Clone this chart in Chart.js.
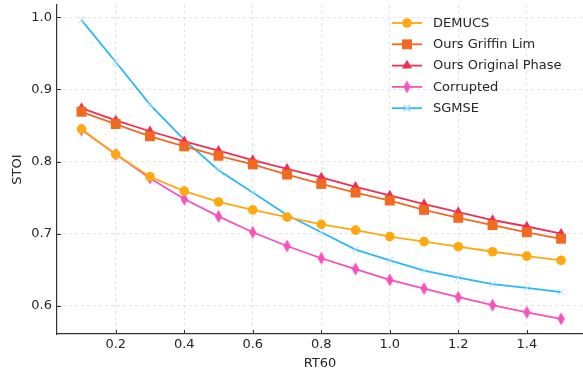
<!DOCTYPE html>
<html>
<head>
<meta charset="utf-8">
<script src="https://cdn.jsdelivr.net/npm/chart.js@4.4.1/dist/chart.umd.min.js"></script>
<style>
  html, body { margin: 0; padding: 0; background: #fff; overflow: hidden; }
  canvas { display: block; }
</style>
</head>
<body>
<canvas id="chart" width="583" height="373"></canvas>
<script>
const rt60 = [0.1, 0.2, 0.3, 0.4, 0.5, 0.6, 0.7, 0.8, 0.9, 1.0, 1.1, 1.2, 1.3, 1.4, 1.5];
const demucs = [0.845, 0.810, 0.779, 0.759, 0.744, 0.733, 0.723, 0.713, 0.705, 0.696, 0.689, 0.682, 0.675, 0.669, 0.663];
const oursGriffinLim = [0.869, 0.852, 0.835, 0.821, 0.808, 0.796, 0.782, 0.769, 0.757, 0.746, 0.733, 0.722, 0.712, 0.702, 0.693];
const oursOriginalPhase = [0.874, 0.857, 0.842, 0.828, 0.815, 0.802, 0.790, 0.778, 0.765, 0.753, 0.741, 0.730, 0.719, 0.710, 0.700];
const corrupted = [0.844, 0.810, 0.777, 0.748, 0.724, 0.702, 0.683, 0.666, 0.651, 0.636, 0.624, 0.612, 0.601, 0.591, 0.582];
const sgmse = [0.996, 0.938, 0.879, 0.830, 0.788, 0.757, 0.726, 0.702, 0.678, 0.663, 0.649, 0.639, 0.630, 0.625, 0.619];

const xTicks = [0.2, 0.4, 0.6, 0.8, 1.0, 1.2, 1.4];
const yTicks = [0.6, 0.7, 0.8, 0.9, 1.0];

const FONT = 'DejaVu Sans';
const TEXT = '#262626';

// thin diamond marker (matplotlib 'd')
function thinDiamond(color) {
    const c = document.createElement('canvas');
    c.width = 9; c.height = 14;
    const g = c.getContext('2d');
    g.fillStyle = color;
    g.beginPath();
    g.moveTo(4.5, 0.5); g.lineTo(8.2, 7); g.lineTo(4.5, 13.5); g.lineTo(0.8, 7);
    g.closePath(); g.fill();
    return c;
}

const series = [
    { label: 'DEMUCS', data: demucs, color: '#FFA812', style: 'circle', radius: 4.8 },
    { label: 'Ours Griffin Lim', data: oursGriffinLim, color: '#F26A21', style: 'rect', radius: 7 },
    { label: 'Ours Original Phase', data: oursOriginalPhase, color: '#EE2F56', style: 'triangle', radius: 5.8 },
    { label: 'Corrupted', data: corrupted, color: '#F453BE', style: thinDiamond('#F453BE'), radius: 5 },
    { label: 'SGMSE', data: sgmse, color: '#2BB8F5', style: 'crossRot', radius: 4.5, pointColor: '#A6DFFA' },
];

const datasets = series.map(s => ({
    label: s.label,
    data: rt60.map((x, i) => ({ x, y: s.data[i] })),
    borderColor: s.color,
    backgroundColor: s.pointColor || s.color,
    pointBorderColor: s.pointColor || s.color,
    pointBackgroundColor: s.pointColor || s.color,
    pointStyle: s.style,
    pointRadius: s.radius,
    pointBorderWidth: s.style === 'crossRot' ? 1 : 0,
    borderWidth: 1.8,
    tension: 0,
}));

const insideTicks = {
    id: 'insideTicks',
    afterDraw(chart) {
        const { ctx, chartArea: a, scales: { x, y } } = chart;
        ctx.save();
        ctx.strokeStyle = '#333';
        ctx.lineWidth = 1;
        xTicks.forEach(v => {
            const px = Math.round(x.getPixelForValue(v)) + 0.5;
            ctx.beginPath(); ctx.moveTo(px, a.bottom); ctx.lineTo(px, a.bottom - 4); ctx.stroke();
        });
        yTicks.forEach(v => {
            const py = Math.round(y.getPixelForValue(v)) + 0.5;
            ctx.beginPath(); ctx.moveTo(a.left, py); ctx.lineTo(a.left + 4, py); ctx.stroke();
        });
        ctx.restore();
    }
};

const innerLegend = {
    id: 'innerLegend',
    afterDraw(chart) {
        const ctx = chart.ctx;
        const x0 = 392, y0 = 23, gap = 21.3;
        ctx.save();
        chart.data.datasets.forEach((ds, i) => {
            const yy = y0 + i * gap;
            ctx.strokeStyle = ds.borderColor;
            ctx.lineWidth = 1.8;
            ctx.beginPath(); ctx.moveTo(x0, yy); ctx.lineTo(x0 + 30, yy); ctx.stroke();
            ctx.fillStyle = ds.pointBackgroundColor;
            ctx.strokeStyle = ds.pointBorderColor;
            Chart.helpers.drawPoint(ctx, {
                pointStyle: ds.pointStyle,
                radius: ds.pointRadius,
                rotation: 0,
                borderWidth: ds.pointBorderWidth,
            }, x0 + 15, yy);
            ctx.fillStyle = TEXT;
            ctx.font = `13px "${FONT}"`;
            ctx.textBaseline = 'middle';
            ctx.fillText(ds.label, x0 + 41, yy + 0.5);
        });
        ctx.restore();
    }
};

new Chart(document.getElementById('chart'), {
    type: 'line',
    data: { datasets },
    options: {
        responsive: false,
        animation: false,
        layout: { autoPadding: false, padding: { top: 5, right: 0, left: 0, bottom: 0 } },
        plugins: { legend: { display: false }, tooltip: { enabled: false } },
        scales: {
            x: {
                type: 'linear',
                min: 0.0285,
                max: 1.564,
                afterBuildTicks: s => { s.ticks = xTicks.map(v => ({ value: v })); },
                afterFit: s => { s.height = 39; s.paddingLeft = 0; s.paddingRight = 0; },
                ticks: {
                    padding: 3,
                    color: TEXT,
                    font: { family: FONT, size: 13 },
                    callback: v => v.toFixed(1),
                },
                grid: { color: '#dcdcdc', lineWidth: 0.8, drawTicks: false },
                border: { display: true, color: '#333', width: 1.2, dash: [3, 3] },
                title: { display: true, text: 'RT60', color: TEXT, font: { family: FONT, size: 13 }, padding: { top: 0, bottom: 2 } },
            },
            y: {
                type: 'linear',
                min: 0.561,
                max: 1.017,
                afterBuildTicks: s => { s.ticks = yTicks.map(v => ({ value: v })); },
                afterFit: s => { s.width = 57; s.paddingTop = 0; s.paddingBottom = 0; },
                ticks: {
                    padding: 5,
                    color: TEXT,
                    font: { family: FONT, size: 13 },
                    callback: v => v.toFixed(1),
                },
                grid: { color: '#dcdcdc', lineWidth: 0.8, drawTicks: false },
                border: { display: true, color: '#333', width: 1.2, dash: [3, 3] },
                title: { display: true, text: 'STOI', color: TEXT, font: { family: FONT, size: 13 }, padding: { top: 10, bottom: 0 } },
            },
        },
    },
    plugins: [insideTicks, innerLegend],
});
</script>
</body>
</html>
